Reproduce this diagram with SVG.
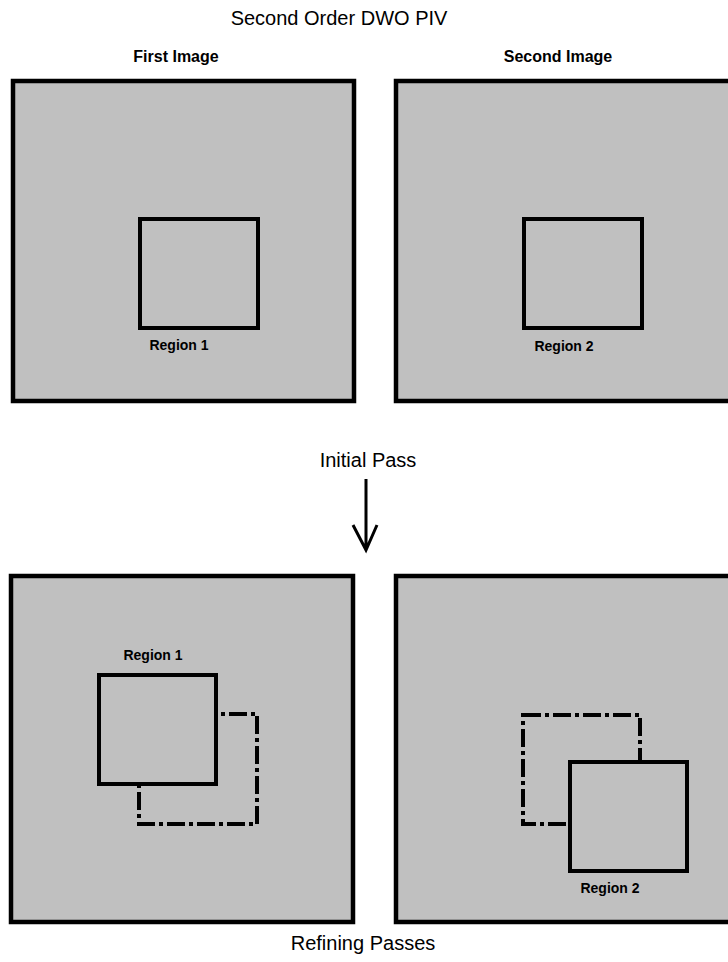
<svg xmlns="http://www.w3.org/2000/svg" width="728" height="962" viewBox="0 0 728 962">
<style>
.img{fill:#C0C0C0;stroke:#000;stroke-width:4.5}
.reg{fill:#C0C0C0;stroke:#000;stroke-width:4}
.dash{fill:none;stroke:#000;stroke-width:4;stroke-dasharray:18 4 4 4}
.t{font-family:"Liberation Sans",Arial,sans-serif;fill:#000}
.big{font-size:20px}
.hd{font-size:16px;font-weight:bold}
.lb{font-size:14px;font-weight:bold}
</style>
<rect width="728" height="962" fill="#fff"/>
<text class="t big" x="339" y="25" text-anchor="middle">Second Order DWO PIV</text>
<text class="t hd" x="176" y="62" text-anchor="middle">First Image</text>
<text class="t hd" x="558" y="62" text-anchor="middle">Second Image</text>
<g id="img1">
<rect class="img" x="13" y="81" width="341" height="320"/>
<rect class="reg" x="140" y="219" width="118" height="109"/>
<text class="t lb" x="179" y="350" text-anchor="middle">Region 1</text>
</g>
<g id="img2">
<rect class="img" x="396" y="81" width="345" height="320"/>
<rect class="reg" x="524" y="219" width="118" height="109"/>
<text class="t lb" x="564" y="351" text-anchor="middle">Region 2</text>
</g>
<text class="t big" x="368" y="467" text-anchor="middle">Initial Pass</text>
<g id="connectors">
<path d="M366 479 V550 M353 525 L366 550 L377 525" fill="none" stroke="#000" stroke-width="3"/>
</g>
<g id="img3">
<rect class="img" x="11" y="576" width="342" height="346"/>
<rect class="dash" x="139" y="714" width="118" height="110"/>
<rect class="reg" x="99" y="675" width="117" height="109"/>
<text class="t lb" x="153" y="660" text-anchor="middle">Region 1</text>
</g>
<g id="img4">
<rect class="img" x="396" y="576" width="345" height="346"/>
<rect class="dash" x="523" y="715" width="117" height="109"/>
<rect class="reg" x="570" y="762" width="117" height="109"/>
<text class="t lb" x="610" y="893" text-anchor="middle">Region 2</text>
</g>
<text class="t big" x="363" y="950" text-anchor="middle">Refining Passes</text>
</svg>
